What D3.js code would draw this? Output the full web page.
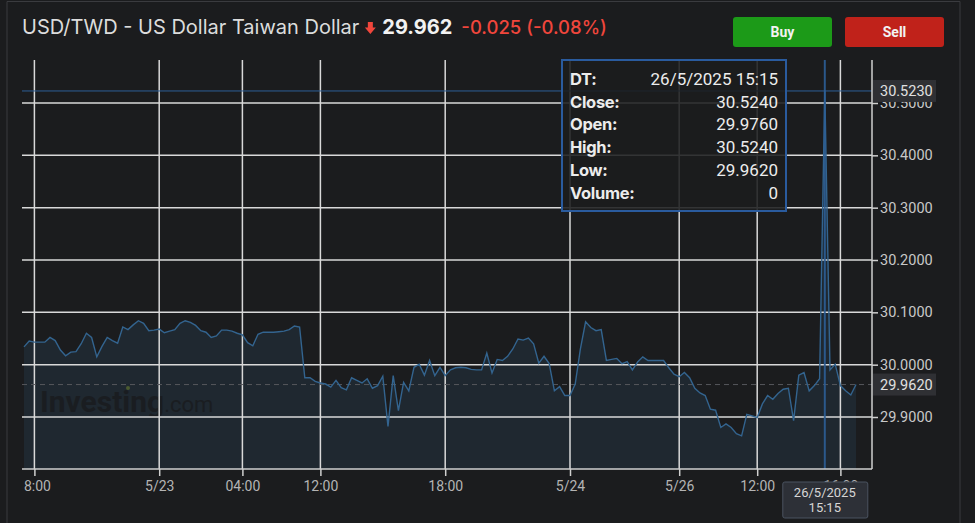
<!DOCTYPE html>
<html><head><meta charset="utf-8">
<script src="https://cdn.jsdelivr.net/npm/d3@7"></script>
<style>
html,body{margin:0;padding:0;background:#1b1c1e;}
svg{display:block;font-family:Roboto,"Noto Sans",sans-serif;}
</style></head>
<body><svg id="c" width="975" height="523"></svg>
<script>
// ---- data ----
const closes = [
30.034,30.045,30.043,30.043,30.043,30.052,30.046,30.028,30.017,30.024,
30.025,30.040,30.060,30.052,30.015,30.035,30.052,30.046,30.041,30.072,
30.067,30.076,30.084,30.079,30.065,30.066,30.068,30.061,30.064,30.067,
30.079,30.084,30.081,30.075,30.065,30.062,30.052,30.055,30.066,30.066,
30.064,30.060,30.057,30.042,30.036,30.058,30.062,30.062,30.062,30.063,
30.064,30.067,30.074,30.072,29.975,29.975,29.968,29.965,29.963,29.957,
29.970,29.956,29.952,29.975,29.970,29.965,29.973,29.955,29.960,29.978,
29.882,29.979,29.912,29.966,29.950,29.995,30.001,29.980,30.008,29.979,
29.995,29.979,29.990,29.994,29.995,29.994,29.991,29.990,29.990,30.022,
29.984,30.010,30.008,30.016,30.030,30.049,30.047,30.051,30.040,30.003,
30.016,30.002,29.950,29.958,29.941,29.941,29.963,30.030,30.082,30.071,
30.065,30.067,30.008,30.010,30.012,30.002,30.006,29.990,30.005,30.015,
30.008,30.008,30.008,30.008,29.994,29.982,29.977,29.985,29.975,29.955,
29.946,29.941,29.915,29.913,29.880,29.887,29.880,29.868,29.864,29.905,
29.902,29.899,29.925,29.941,29.934,29.945,29.953,29.955,29.893,29.980,
29.985,29.950,29.960,29.973,30.524,29.990,30.001,29.960,29.950,29.942,
29.962];
const xTickIndex = [2, 26, 42, 57, 81, 105, 126, 141, 157];
const xTickLabels = ["8:00","5/23","04:00","12:00","18:00","5/24","5/26","12:00","16:00"];
const yTicks = [29.9, 30.0, 30.1, 30.2, 30.3, 30.4, 30.5];
const tipLabels = ["DT:","Close:","Open:","High:","Low:","Volume:"];
const tipValues = ["26/5/2025 15:15","30.5240","29.9760","30.5240","29.9620","0"];
const hoverIndex = 154;
const hoverDate = ["26/5/2025","15:15"];
const crosshairValue = 30.523;
const lastValue = 29.962;
const title = "USD/TWD - US Dollar Taiwan Dollar";
const priceText = "29.962";
const changeText = "-0.025 (-0.08%)";

// ---- layout ----
const svg = d3.select("#c");
const W = 975, H = 523;
const plot = {left: 22, right: 872, top: 60, bottom: 469};
const HF = "Inter, Roboto, sans-serif";

svg.append("rect").attr("width", W).attr("height", H).attr("fill", "#1b1c1e");
// frame
svg.append("path").attr("d", `M7,${H} V1.5 H960 V${H}`).attr("fill","none").attr("stroke","#3a3b3f").attr("stroke-width",1);

const x = d3.scaleLinear().domain([0, closes.length - 1]).range([24, 856]);
const y = d3.scaleLinear().domain([29.9, 30.5]).range([417, 103]);

// header
const hdr = svg.append("g").attr("font-family", HF);
const t1 = hdr.append("text").attr("x", 22).attr("y", 34).attr("fill", "#dcdcdc")
  .attr("font-size", 20).text(title);
const tw = t1.node().getComputedTextLength();
const ax = 22 + tw + 6;
hdr.append("path").attr("d", `M${ax+2.5},22 h5 v5.5 h3 l-5.5,6.5 l-5.5,-6.5 h3 z`).attr("fill", "#f0463c");
const p = hdr.append("text").attr("x", ax + 17).attr("y", 34).attr("fill", "#f2f2f2")
  .attr("font-size", 20).attr("font-weight", 700).text(priceText);
const pw = p.node().getComputedTextLength();
hdr.append("text").attr("x", ax + 17 + pw + 9).attr("y", 34).attr("fill", "#f0463c")
  .attr("font-size", 18.5).attr("font-weight", 500).text(changeText);

// buttons
const btns = [{t:"Buy", x:733, c:"#1c9a18"}, {t:"Sell", x:845, c:"#c0221a"}];
btns.forEach(b => {
  svg.append("rect").attr("x", b.x).attr("y", 17).attr("width", 99).attr("height", 30).attr("rx", 3).attr("fill", b.c);
  svg.append("text").attr("x", b.x + 49.5).attr("y", 37).attr("text-anchor", "middle").attr("fill", "#f2f2f2")
    .attr("font-size", 14).attr("font-weight", 700).text(b.t);
});

// area
svg.append("path").datum(closes)
  .attr("fill", "#1f2830")
  .attr("d", d3.area().x((d,i)=>x(i)).y0(plot.bottom).y1(d=>y(d)));

// watermark
const wm = svg.append("text").attr("x", 40).attr("y", 412).attr("fill", "#1a1d21").attr("font-size", 30).attr("font-weight", 700);
wm.append("tspan").text("Investing");
wm.append("tspan").attr("font-weight", 400).attr("font-size", 22).text(".com");
svg.append("circle").attr("cx", 128).attr("cy", 388).attr("r", 2).attr("fill", "#4a5a30");

// grid
const grid = svg.append("g").attr("stroke", "#d9d9d9").attr("stroke-width", 1.5);
yTicks.forEach(v => grid.append("line").attr("x1", plot.left).attr("x2", plot.right).attr("y1", y(v)).attr("y2", y(v)));
xTickIndex.forEach(i => grid.append("line").attr("x1", x(i)).attr("x2", x(i)).attr("y1", plot.top).attr("y2", plot.bottom));

// last value dashed line
svg.append("line").attr("x1", plot.left).attr("x2", plot.right).attr("y1", y(lastValue)).attr("y2", y(lastValue))
  .attr("stroke", "#55575c").attr("stroke-dasharray", "5,4").attr("stroke-width", 1);

// line
svg.append("path").datum(closes)
  .attr("fill", "none").attr("stroke", "#33648f").attr("stroke-width", 1.4)
  .attr("d", d3.line().x((d,i)=>x(i)).y(d=>y(d)));

// crosshair
svg.append("line").attr("x1", x(hoverIndex)).attr("x2", x(hoverIndex)).attr("y1", plot.top).attr("y2", plot.bottom)
  .attr("stroke", "#2d5f96").attr("stroke-width", 2).attr("opacity", 0.9);
svg.append("line").attr("x1", plot.left).attr("x2", plot.right).attr("y1", y(crosshairValue)).attr("y2", y(crosshairValue))
  .attr("stroke", "#2d5f96").attr("stroke-width", 1);

// axes
const yAxis = svg.append("g").attr("transform", `translate(${plot.right},0)`)
  .call(d3.axisRight(y).tickValues(yTicks).tickFormat(d3.format(".4f")).tickSize(6).tickPadding(2));
yAxis.select(".domain").attr("d", `M0,${plot.top}V${plot.bottom}`).attr("stroke", "#cfcfcf").attr("stroke-width", 1.5);
yAxis.selectAll(".tick line").attr("stroke", "#cfcfcf").attr("stroke-width", 1.5);
yAxis.selectAll(".tick text").attr("fill", "#c8c8c8").attr("font-size", 14.5).attr("font-family", "Roboto");

const xAxis = svg.append("g").attr("transform", `translate(0,${plot.bottom})`)
  .call(d3.axisBottom(x).tickValues(xTickIndex).tickFormat((d,i)=>xTickLabels[i]).tickSize(7).tickPadding(5));
xAxis.select(".domain").attr("d", `M${plot.left},0H${plot.right}`).attr("stroke", "#cfcfcf").attr("stroke-width", 1.5);
xAxis.selectAll(".tick line").attr("stroke", "#cfcfcf").attr("stroke-width", 1.5);
xAxis.selectAll(".tick text").attr("fill", "#b4b4b4").attr("font-size", 14).attr("font-family", "Roboto");
xAxis.selectAll(".tick text").filter((d,i)=>i===0).attr("text-anchor", "start").attr("dx", -11);

// value labels on right axis
function valueBox(v, txt) {
  svg.append("rect").attr("x", plot.right + 1).attr("y", y(v) - 11).attr("width", 63).attr("height", 22).attr("fill", "#2f3034");
  svg.append("text").attr("x", plot.right + 8).attr("y", y(v) + 5).attr("fill", "#e0e0e0").attr("font-size", 14.5).text(txt);
}
valueBox(crosshairValue, d3.format(".4f")(crosshairValue));
valueBox(lastValue, d3.format(".4f")(lastValue));

// date box
const dx = x(hoverIndex);
svg.append("rect").attr("x", dx - 42).attr("y", 482).attr("width", 85).attr("height", 36).attr("rx", 2)
  .attr("fill", "#2d3037").attr("stroke", "#4a5360").attr("stroke-width", 1);
hoverDate.forEach((t, i) => svg.append("text").attr("x", dx).attr("y", 497 + i * 15).attr("text-anchor", "middle")
  .attr("fill", "#d6d6d6").attr("font-size", 13).text(t));

// tooltip
const tip = {x: 562, y: 60, w: 224, h: 151};
svg.append("rect").attr("x", tip.x).attr("y", tip.y).attr("width", tip.w).attr("height", tip.h)
  .attr("fill", "#1b1c1e").attr("fill-opacity", 0.88).attr("stroke", "#2a5b9e").attr("stroke-width", 2);
tipLabels.forEach((l, i) => {
  const ty = 85 + i * 22.7;
  svg.append("text").attr("x", 570).attr("y", ty).attr("fill", "#ececec").attr("font-size", 16.5).attr("font-weight", 700)
    .attr("font-family", HF).attr("letter-spacing", -0.3).text(l);
  svg.append("text").attr("x", 778).attr("y", ty).attr("text-anchor", "end").attr("fill", "#ececec").attr("font-size", 17)
    .attr("font-family", "Roboto").text(tipValues[i]);
});
</script></body></html>
